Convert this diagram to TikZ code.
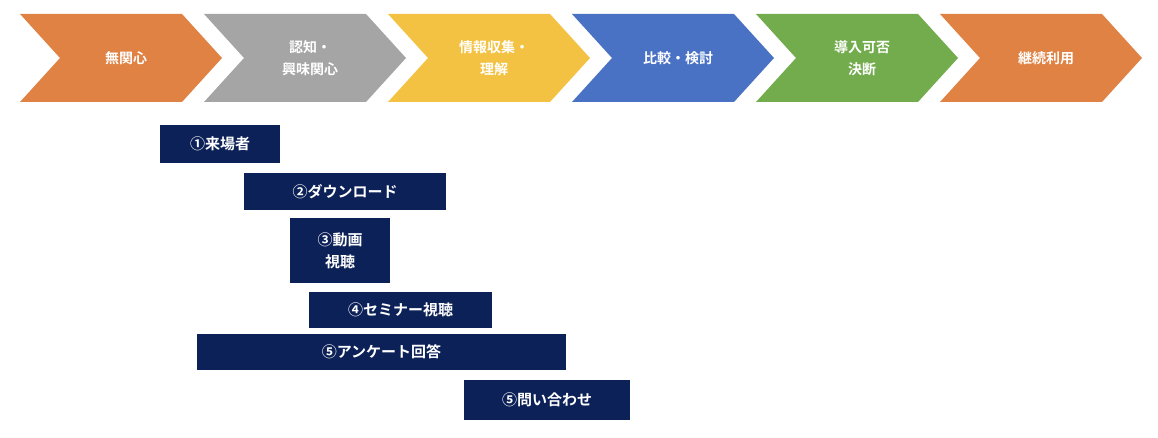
\documentclass[tikz,border=0pt]{standalone}
\usepackage{fontspec}
\newfontfamily\jp{Noto Sans CJK JP Bold}
\definecolor{cO}{HTML}{DF8244}
\definecolor{cG}{HTML}{A5A5A5}
\definecolor{cY}{HTML}{F4C242}
\definecolor{cB}{HTML}{4A72C4}
\definecolor{cGr}{HTML}{72AC4D}
\definecolor{nv}{HTML}{0C2157}
\tikzset{
 chev/.style={text=white,font=\jp\fontsize{14}{22}\selectfont,align=center},
 nbox/.style={fill=nv,text=white,font=\jp\fontsize{15}{22}\selectfont,align=center,inner sep=0pt}
}
\begin{document}
\begin{tikzpicture}[x=1pt,y=-1pt]
\useasboundingbox (0,0) rectangle (1158,438);
\foreach \i/\c/\t in {0/cO/無関心,1/cG/{認知・\\興味関心},2/cY/{情報収集・\\理解},3/cB/比較・検討,4/cGr/{導入可否\\決断},5/cO/継続利用}{
 \pgfmathsetmacro{\L}{20+184*\i}
 \fill[\c] (\L,14) -- ({\L+162},14) -- ({\L+202},58) -- ({\L+162},102) -- (\L,102) -- ({\L+40},58) -- cycle;
 \node[chev] (c\i) at ({\L+106},58) {\t};
}
\node[nbox,minimum width=120,minimum height=38] (b1) at (220,144) {①来場者};
\node[nbox,minimum width=202,minimum height=37] (b2) at (345,191.5) {②ダウンロード};
\node[nbox,minimum width=100,minimum height=65] (b3) at (340,250.5) {③動画\\視聴};
\node[nbox,minimum width=183,minimum height=36] (b4) at (400.5,310) {④セミナー視聴};
\node[nbox,minimum width=369,minimum height=36] (b5) at (381.5,352) {⑤アンケート回答};
\node[nbox,minimum width=166,minimum height=40] (b6) at (547,400) {⑤問い合わせ};
\end{tikzpicture}
\end{document}
